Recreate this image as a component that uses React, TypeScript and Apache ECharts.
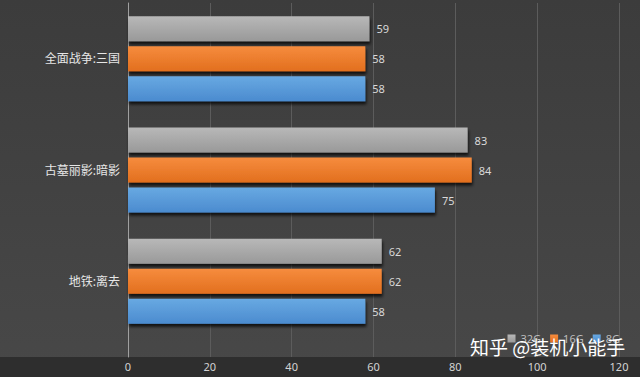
import React, { useEffect, useRef } from "react";
import * as echarts from "echarts";

const categories = ["全面战争:三国", "古墓丽影:暗影", "地铁:离去"];
const seriesNames = ["32G", "16G", "8G"];
const values32G = [59, 83, 62];
const values16G = [58, 84, 62];
const values8G = [58, 75, 58];
const xTicks = { min: 0, max: 120, interval: 20 };
const watermark = "知乎 @装机小能手";

const FONT = "'Noto Sans', 'Noto Sans CJK SC', sans-serif";

function grad(top: string, bottom: string) {
  return new echarts.graphic.LinearGradient(0, 0, 0, 1, [
    { offset: 0, color: top },
    { offset: 1, color: bottom },
  ]);
}

export default function App() {
  const ref = useRef<HTMLDivElement>(null);
  useEffect(() => {
    document.body.style.margin = "0";
    if (!ref.current) return;
    const chart = echarts.init(ref.current, undefined, { renderer: "svg" });
    const colors = [
      { c: "#a5a5a5", g: grad("#b8b8b8", "#999999") },
      { c: "#ed7d31", g: grad("#f68c3e", "#e26f1e") },
      { c: "#5b9bd5", g: grad("#68a9e2", "#4b8bcf") },
    ];
    const data = [values32G, values16G, values8G];
    chart.setOption({
      animation: false,
      backgroundColor: grad("#3c3c3c", "#484848"),
      textStyle: { fontFamily: FONT },
      legend: {
        data: seriesNames,
        right: 15,
        bottom: 28,
        itemWidth: 8,
        itemHeight: 8,
        itemGap: 9,
        icon: "rect",
        textStyle: { color: "#bdbdbd", fontSize: 11, fontFamily: FONT },
      },
      grid: [
        { left: 128, right: 21, top: 3, bottom: 40, containLabel: false },
        { left: 128, right: 21, top: 3, bottom: 20, containLabel: false },
      ],
      xAxis: [
        {
          gridIndex: 0,
          type: "value",
          min: xTicks.min,
          max: xTicks.max,
          interval: xTicks.interval,
          show: false,
          splitLine: { show: false },
        },
        {
          gridIndex: 1,
          type: "value",
          min: xTicks.min,
          max: xTicks.max,
          interval: xTicks.interval,
          axisLine: { show: false },
          axisTick: { show: false },
          axisLabel: { color: "#d4d4d4", fontSize: 11, margin: 4, fontFamily: FONT },
          splitLine: { show: true, lineStyle: { color: "#5c5c5c", width: 1 } },
        },
      ],
      yAxis: [
        {
          gridIndex: 0,
          type: "category",
          data: categories,
          inverse: true,
          axisLine: { show: false },
          axisTick: { show: false },
          axisLabel: { color: "#e6e6e6", fontSize: 12, margin: 8, fontFamily: FONT },
        },
        {
          gridIndex: 1,
          type: "value",
          axisLine: { show: true, onZero: false, lineStyle: { color: "#a0a0a0", width: 1 } },
          axisTick: { show: false },
          axisLabel: { show: false },
          splitLine: { show: false },
        },
      ],
      graphic: [
        {
          type: "rect",
          left: 0,
          top: 357,
          shape: { width: 640, height: 20 },
          style: { fill: "#2e2e2e" },
          z: -10,
        },
        {
          type: "text",
          left: 470,
          top: 337,
          z: 100,
          style: {
            text: watermark,
            fill: "#ffffff",
            fontSize: 19,
            fontFamily: "'Noto Sans CJK SC', sans-serif",
            shadowColor: "rgba(0,0,0,0.6)",
            shadowBlur: 2,
          },
        },
      ],
      series: seriesNames.map((name, i) => ({
        name,
        type: "bar",
        xAxisIndex: 0,
        yAxisIndex: 0,
        data: data[i],
        barWidth: 25,
        barGap: "20%",
        itemStyle: {
          color: colors[i].g,
          shadowColor: "rgba(0,0,0,0.75)",
          shadowBlur: 3,
          shadowOffsetY: 3,
          shadowOffsetX: 1,
        },
        label: {
          show: true,
          position: "right",
          distance: 7,
          color: "#d9d9d9",
          fontSize: 11,
          fontFamily: FONT,
        },
      })),
    });
    return () => chart.dispose();
  }, []);
  return <div ref={ref} style={{ width: 640, height: 377 }} />;
}
